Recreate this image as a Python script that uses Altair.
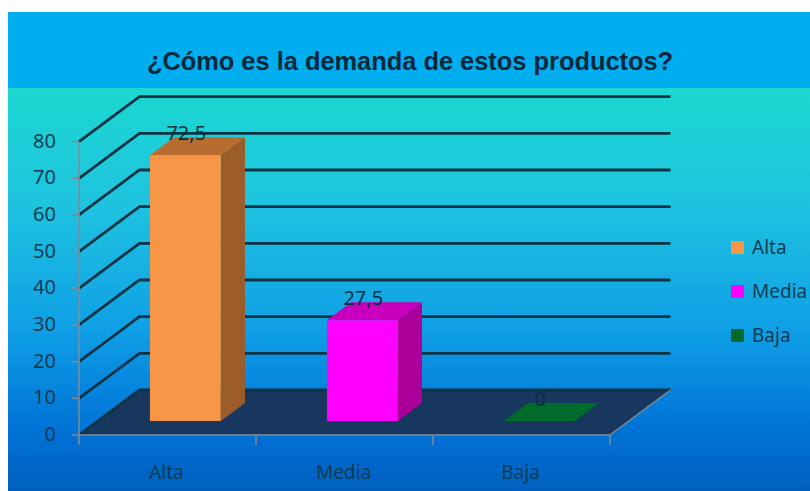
import altair as alt
import pandas as pd

categories = ["Alta", "Media", "Baja"]
values = [72.5, 27.5, 0]
value_labels = ["72,5", "27,5", "0"]
front_colors = ["#F79646", "#FF00FF", "#006B2B"]
top_colors = ["#B96C2F", "#C800BE", "#006B2B"]
side_colors = ["#9C5C2A", "#AA0099", "#006B2B"]
y_ticks = [0, 10, 20, 30, 40, 50, 60, 70, 80]

# Oblique projection: one unit of depth shifts a point right and up, in data units
PX_PER_CAT = 177.0
PX_PER_VAL = 3.667
DEPTH_X = 60.5 / PX_PER_CAT
DEPTH_Y = 45 / PX_PER_VAL
BAR_WIDTH = 0.4
BAR_SHIFT = -0.005
BAR_D0, BAR_D1 = 0.31, 0.71

X_DOMAIN = [-79 / PX_PER_CAT, (810 - 79) / PX_PER_CAT]
Y_DOMAIN = [(435 - 491) / PX_PER_VAL, 435 / PX_PER_VAL]
x_scale = alt.Scale(domain=X_DOMAIN, nice=False, zero=False)
y_scale = alt.Scale(domain=Y_DOMAIN, nice=False, zero=False)


def X(field="x"):
    return alt.X(f"{field}:Q", scale=x_scale, axis=None)


def Y(field="y"):
    return alt.Y(f"{field}:Q", scale=y_scale, axis=None)


# Background panels
header = alt.Chart(pd.DataFrame({"a": [0]})).mark_rect(color="#00AEEF").encode(
    x=alt.value(8), x2=alt.value(810), y=alt.value(12), y2=alt.value(88)
)
body_fill = alt.LinearGradient(
    gradient="linear",
    x1=0, x2=0, y1=0, y2=1,
    stops=[
        alt.GradientStop(color="#1CD8D0", offset=0),
        alt.GradientStop(color="#1EC2E0", offset=0.3),
        alt.GradientStop(color="#0F9FE6", offset=0.6),
        alt.GradientStop(color="#0072D6", offset=0.85),
        alt.GradientStop(color="#005FBE", offset=1),
    ],
)
body = alt.Chart(pd.DataFrame({"a": [0]})).mark_rect(color=body_fill).encode(
    x=alt.value(8), x2=alt.value(810), y=alt.value(88), y2=alt.value(491)
)

# Floor of the plot
n = len(categories)
floor_df = pd.DataFrame(
    [{"y": d * DEPTH_Y, "x": d * DEPTH_X, "x2": n + d * DEPTH_X} for d in (0, 1)]
)
floor = alt.Chart(floor_df).mark_area(orient="horizontal", color="#17375E").encode(
    y=Y(), x=X(), x2="x2:Q"
)

# Gridlines: up the side wall, then along the back wall
grid_rows = []
for t in y_ticks:
    grid_rows.append({"tick": t, "step": 0, "x": 0, "y": t})
    grid_rows.append({"tick": t, "step": 1, "x": DEPTH_X, "y": t + DEPTH_Y})
    grid_rows.append({"tick": t, "step": 2, "x": n + DEPTH_X, "y": t + DEPTH_Y})
grid = alt.Chart(pd.DataFrame(grid_rows)).mark_line(color="#0A3444", strokeWidth=2.8).encode(
    x=X(), y=Y(), detail="tick:N", order="step:Q"
)

# Axis lines, ticks and labels
axis_color = "#7F8C96"
y_axis_df = pd.DataFrame({"x": [0], "y": [0], "y2": [max(y_ticks)]})
y_axis = alt.Chart(y_axis_df).mark_rule(color=axis_color, strokeWidth=1.5).encode(
    x=X(), y=Y(), y2="y2:Q"
)
y_tick_df = pd.DataFrame({"y": y_ticks, "x": [-7 / PX_PER_CAT] * len(y_ticks), "x2": [0] * len(y_ticks)})
y_tick_marks = alt.Chart(y_tick_df).mark_rule(color=axis_color, strokeWidth=1.5).encode(
    y=Y(), x=X(), x2="x2:Q"
)
y_labels = alt.Chart(pd.DataFrame({"y": y_ticks, "x": [0] * len(y_ticks)})).mark_text(
    align="right", baseline="middle", dx=-23, font="Noto Sans", fontSize=20, color="#0B3C52"
).encode(x=X(), y=Y(), text="y:Q")

x_axis_df = pd.DataFrame({"x": [0], "x2": [n], "y": [0]})
x_axis = alt.Chart(x_axis_df).mark_rule(color=axis_color, strokeWidth=1.5).encode(
    x=X(), x2="x2:Q", y=Y()
)
x_tick_df = pd.DataFrame({"x": list(range(n + 1)), "y": [0] * (n + 1), "y2": [-10 / PX_PER_VAL] * (n + 1)})
x_tick_marks = alt.Chart(x_tick_df).mark_rule(color=axis_color, strokeWidth=1.5).encode(
    x=X(), y=Y(), y2="y2:Q"
)
floor_edge_df = pd.DataFrame({"x": [n, n + DEPTH_X], "y": [0, DEPTH_Y]})
floor_edge = alt.Chart(floor_edge_df).mark_line(color=axis_color, strokeWidth=1.5).encode(
    x=X(), y=Y()
)
x_labels = alt.Chart(
    pd.DataFrame({"x": [i + 0.5 for i in range(n)], "y": [0] * n, "c": categories})
).mark_text(
    baseline="middle", dy=38, dx=-1, font="Noto Sans", fontSize=19, color="#0B3C52"
).encode(x=X(), y=Y(), text="c:N")

# Bars: front face from the value, side and top faces from the same value
front_rows, side_rows, top_rows, label_rows = [], [], [], []
for i, (cat, val, lab) in enumerate(zip(categories, values, value_labels)):
    left = i + 0.5 - BAR_WIDTH / 2 + BAR_SHIFT
    right = i + 0.5 + BAR_WIDTH / 2 + BAR_SHIFT
    front_rows.append({
        "cat": cat,
        "x": left + BAR_D0 * DEPTH_X,
        "x2": right + BAR_D0 * DEPTH_X,
        "y": BAR_D0 * DEPTH_Y,
        "y2": val + BAR_D0 * DEPTH_Y,
    })
    for d in (BAR_D0, BAR_D1):
        side_rows.append({
            "cat": cat,
            "x": right + d * DEPTH_X,
            "y": d * DEPTH_Y,
            "y2": val + d * DEPTH_Y,
        })
        top_rows.append({
            "cat": cat,
            "x": left + d * DEPTH_X,
            "x2": right + d * DEPTH_X,
            "y": val + d * DEPTH_Y,
        })
    label_rows.append({
        "cat": cat,
        "x": i + 0.5 + BAR_D0 * DEPTH_X,
        "y": val + BAR_D1 * DEPTH_Y,
        "t": lab,
    })

side_scale = alt.Scale(domain=categories, range=side_colors)
top_scale = alt.Scale(domain=categories, range=top_colors)

sides = alt.Chart(pd.DataFrame(side_rows)).mark_area().encode(
    x=X(), y=Y(), y2="y2:Q", detail="cat:N",
    color=alt.Color("cat:N", scale=side_scale, legend=None),
)
tops = alt.Chart(pd.DataFrame(top_rows)).mark_area(orient="horizontal").encode(
    y=Y(), x=X(), x2="x2:Q", detail="cat:N",
    color=alt.Color("cat:N", scale=top_scale, legend=None),
)
fronts = alt.Chart(pd.DataFrame(front_rows)).mark_rect().encode(
    x=X(), x2="x2:Q", y=Y(), y2="y2:Q",
    fill=alt.Fill(
        "cat:N",
        scale=alt.Scale(domain=categories, range=front_colors),
        sort=categories,
        legend=alt.Legend(
            title=None,
            orient="none",
            legendX=728,
            legendY=238,
            symbolType="square",
            symbolSize=170,
            symbolStrokeWidth=0,
            labelFont="Noto Sans",
            labelFontSize=19,
            labelColor="#0B3C52",
            labelOffset=5,
            rowPadding=24,
            labelLimit=90,
        ),
    ),
)
bar_labels = alt.Chart(pd.DataFrame(label_rows)).mark_text(
    baseline="middle", dy=-3, font="Noto Sans", fontSize=20, color="#0A2F3F"
).encode(x=X(), y=Y(), text="t:N")

chart = alt.layer(
    header, body, floor, grid, y_axis, y_tick_marks, y_labels,
    x_axis, x_tick_marks, floor_edge, x_labels,
    sides, tops, fronts, bar_labels,
).resolve_scale(color="independent").properties(
    width=810,
    height=491,
    padding=0,
    autosize="none",
    background="white",
    title=alt.TitleParams(
        "¿Cómo es la demanda de estos productos?",
        anchor="middle",
        dx=5,
        dy=75,
        offset=0,
        font="Liberation Sans",
        fontSize=25.4,
        fontWeight="bold",
        color="#06283A",
    ),
).configure_view(stroke=None)

chart.save("out.html", embed_options={"renderer": "svg", "actions": False})
